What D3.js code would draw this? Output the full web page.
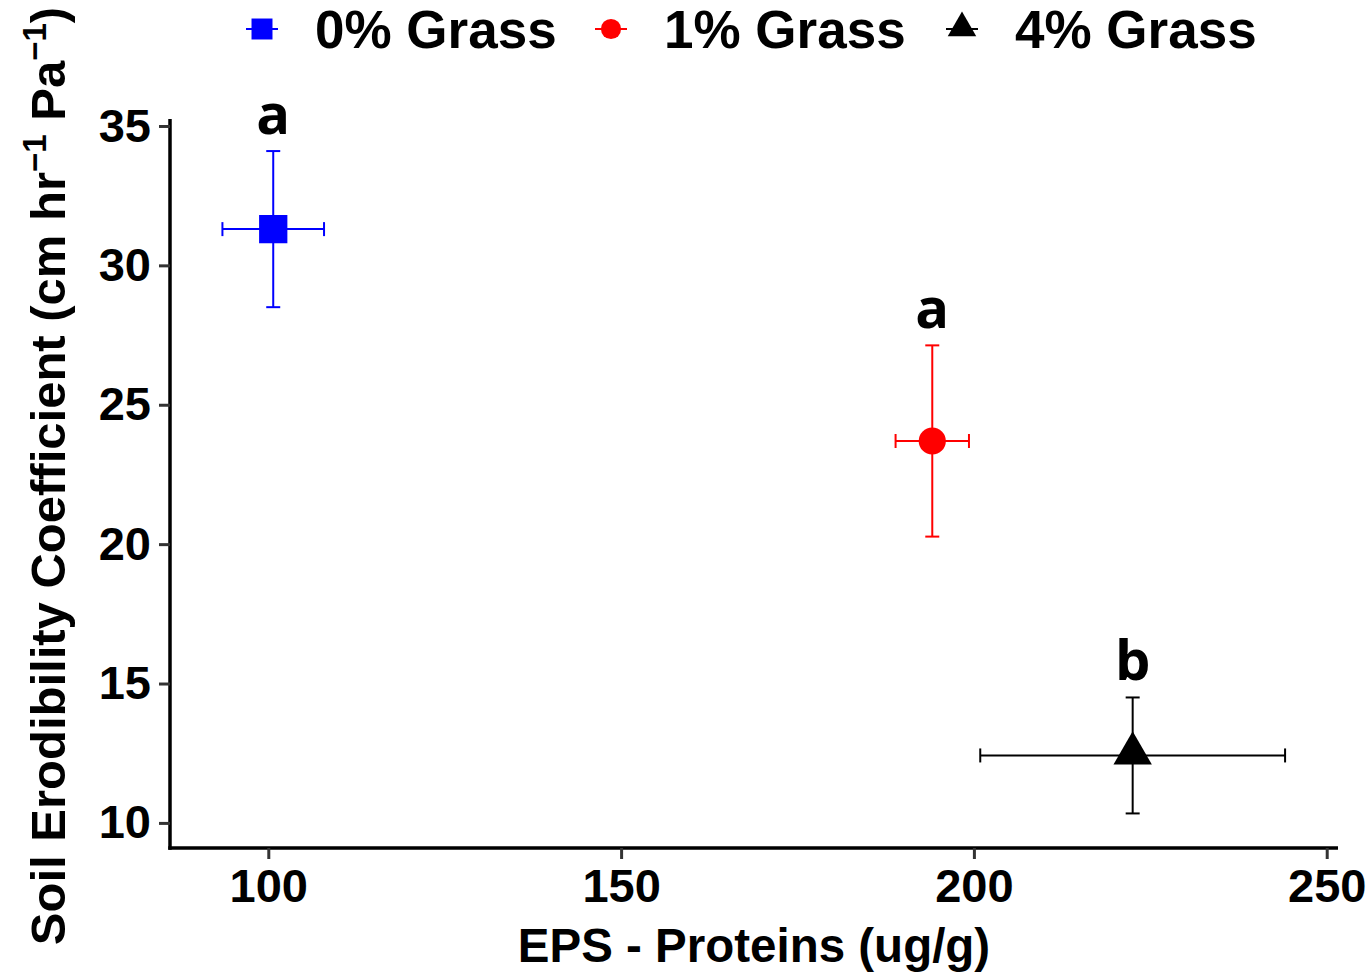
<!DOCTYPE html>
<html><head><meta charset="utf-8">
<script src="https://cdn.jsdelivr.net/npm/d3@7"></script>
<style>
html,body{margin:0;padding:0;background:#fff;}
svg{display:block;}
</style></head>
<body>
<script>
const groups = ["0% Grass", "1% Grass", "4% Grass"];
const xMean = [100.7, 194.1, 222.5];
const xErr = [7.2, 5.2, 21.6];
const yMean = [31.3, 23.7, 12.42];
const yErr = [2.8, 3.43, 2.08];
const letters = ["a", "a", "b"];
const colors = ["#0000ff", "#ff0000", "#000000"];
const shapes = [d3.symbolSquare, d3.symbolCircle, d3.symbolTriangle];
const shapeSizes = [800, 580, 640];
const xTicks = [100, 150, 200, 250];
const yTicks = [10, 15, 20, 25, 30, 35];

const W = 1368, H = 972;
const svg = d3.select("body").append("svg").attr("width", W).attr("height", H);

const x = d3.scaleLinear().domain([86.07, 251.6]).range([170, 1338]);
const y = d3.scaleLinear().domain([9.1, 35.25]).range([848, 119]);

const font = "'Liberation Sans', Arial, sans-serif";

// axes
const xAxis = svg.append("g").attr("transform", "translate(0,848)")
  .call(d3.axisBottom(x).tickValues(xTicks).tickSize(11).tickPadding(10).tickSizeOuter(0));
const yAxis = svg.append("g").attr("transform", "translate(170,0)")
  .call(d3.axisLeft(y).tickValues(yTicks).tickSize(11).tickPadding(8).tickSizeOuter(0));
[xAxis, yAxis].forEach(g => {
  g.select(".domain").attr("stroke", "#000").attr("stroke-width", 3.5);
  g.selectAll(".tick line").attr("stroke", "#333").attr("stroke-width", 3);
  g.selectAll(".tick text").attr("fill", "#000").style("font-family", font)
    .style("font-weight", "bold").style("font-size", "47px");
});
xAxis.select(".domain").attr("d", `M${170 - 1.75},0H1338`);
yAxis.select(".domain").attr("d", `M0,119V${848 + 1.75}`);

// error bars
const cap = 7;
const pts = groups.map((g, i) => ({i, g}));
const eb = svg.append("g");
pts.forEach(({i}) => {
  const cx = x(xMean[i]), cy = y(yMean[i]);
  const gg = eb.append("g").attr("stroke", colors[i]).attr("stroke-width", 2).attr("fill", "none");
  const y0 = y(yMean[i] - yErr[i]), y1 = y(yMean[i] + yErr[i]);
  const x0 = x(xMean[i] - xErr[i]), x1 = x(xMean[i] + xErr[i]);
  gg.append("line").attr("x1", cx).attr("x2", cx).attr("y1", y0).attr("y2", y1);
  gg.append("line").attr("x1", cx - cap).attr("x2", cx + cap).attr("y1", y0).attr("y2", y0);
  gg.append("line").attr("x1", cx - cap).attr("x2", cx + cap).attr("y1", y1).attr("y2", y1);
  gg.append("line").attr("x1", x0).attr("x2", x1).attr("y1", cy).attr("y2", cy);
  gg.append("line").attr("x1", x0).attr("x2", x0).attr("y1", cy - cap).attr("y2", cy + cap);
  gg.append("line").attr("x1", x1).attr("x2", x1).attr("y1", cy - cap).attr("y2", cy + cap);
});

// points
pts.forEach(({i}) => {
  const cx = x(xMean[i]), cy = y(yMean[i]);
  const dy = i === 2 ? -2 : 0;
  svg.append("path").attr("d", d3.symbol().type(shapes[i]).size(shapeSizes[i])())
    .attr("transform", `translate(${cx},${cy + dy})`).attr("fill", colors[i]);
  svg.append("text").attr("x", cx).attr("y", y(yMean[i] + yErr[i]) - 17)
    .attr("text-anchor", "middle").style("font-family", "'Open Sans', sans-serif")
    .style("font-weight", "bold").style("font-size", "56px").text(letters[i]);
});

// legend
const legX = [262, 611, 962];
const leg = svg.append("g");
groups.forEach((g, i) => {
  const lg = leg.append("g").attr("transform", `translate(${legX[i]},29)`);
  lg.append("line").attr("x1", -16).attr("x2", 16).attr("stroke", colors[i]).attr("stroke-width", 2);
  lg.append("path").attr("d", d3.symbol().type(shapes[i]).size(shapeSizes[i] * 0.55)())
    .attr("fill", colors[i]).attr("transform", i === 2 ? "translate(0,-1)" : null);
  lg.append("text").attr("x", 53).attr("y", 19).style("font-family", font)
    .style("font-weight", "bold").style("font-size", "53px").text(g);
});

// axis titles
svg.append("text").attr("x", 754).attr("y", 962).attr("text-anchor", "middle")
  .style("font-family", font).style("font-weight", "bold").style("font-size", "47.5px")
  .text("EPS - Proteins (ug/g)");

const yt = svg.append("text").attr("transform", "translate(65,476) rotate(-90)")
  .attr("text-anchor", "middle").style("font-family", font).style("font-weight", "bold")
  .style("font-size", "49px");
yt.append("tspan").text("Soil Erodibility Coefficient (cm hr");
yt.append("tspan").attr("dy", -19).style("font-size", "33px").text("\u22121");
yt.append("tspan").attr("dy", 19).text(" Pa");
yt.append("tspan").attr("dy", -19).style("font-size", "33px").text("\u22121");
yt.append("tspan").attr("dy", 19).text(")");
</script>
</body></html>
